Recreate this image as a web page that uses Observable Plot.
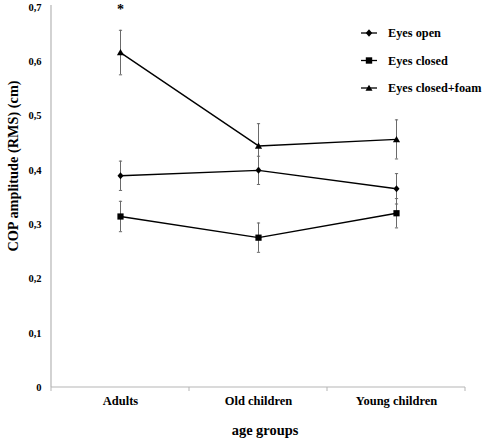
<!DOCTYPE html>
<html>
<head>
<meta charset="utf-8">
<script src="https://cdn.jsdelivr.net/npm/d3@7"></script>
<script src="https://cdn.jsdelivr.net/npm/@observablehq/plot@0.6"></script>
<style>
  html, body { margin: 0; padding: 0; background: #fff; }
  #chart { width: 499px; height: 440px; }
</style>
</head>
<body>
<div id="chart"></div>
<script>
const categories = ["Adults", "Old children", "Young children"];
const seriesNames = ["Eyes open", "Eyes closed", "Eyes closed+foam"];
const eyesOpen = [0.390, 0.400, 0.366];
const eyesOpenErr = [0.027, 0.026, 0.028];
const eyesClosed = [0.315, 0.276, 0.321];
const eyesClosedErr = [0.028, 0.027, 0.027];
const eyesClosedFoam = [0.617, 0.445, 0.457];
const eyesClosedFoamErr = [0.041, 0.041, 0.036];
const yTicks = [0, 0.1, 0.2, 0.3, 0.4, 0.5, 0.6, 0.7];
const significance = [{group: "Adults", label: "*", value: 0.697}];
const yTitle = "COP amplitude (RMS) (cm)";
const xTitle = "age groups";

const FONT = "Liberation Serif, Times New Roman, serif";

// custom symbols
const sym = {
  diamond: { draw(ctx, size) { const r = Math.sqrt(size / Math.PI); ctx.moveTo(0, -r * 1.15); ctx.lineTo(r, 0); ctx.lineTo(0, r * 1.15); ctx.lineTo(-r, 0); ctx.closePath(); } },
  square: { draw(ctx, size) { const r = Math.sqrt(size / Math.PI); ctx.rect(-r, -r, 2 * r, 2 * r); } },
  triangle: { draw(ctx, size) { const r = Math.sqrt(size / Math.PI); ctx.moveTo(0, -r * 1.05); ctx.lineTo(r * 1.1, r * 0.85); ctx.lineTo(-r * 1.1, r * 0.85); ctx.closePath(); } },
  cap: { draw(ctx, size) { const r = Math.sqrt(size / Math.PI); ctx.moveTo(-r, 0); ctx.lineTo(r, 0); } }
};
const symbolFor = {"Eyes open": sym.diamond, "Eyes closed": sym.square, "Eyes closed+foam": sym.triangle};
const sizeFor = {"Eyes open": 4.2, "Eyes closed": 4.5, "Eyes closed+foam": 5};

const valuesBySeries = [eyesOpen, eyesClosed, eyesClosedFoam];
const errBySeries = [eyesOpenErr, eyesClosedErr, eyesClosedFoamErr];
const data = [];
seriesNames.forEach((s, si) => {
  categories.forEach((c, ci) => {
    data.push({series: s, group: c, value: valuesBySeries[si][ci], err: errBySeries[si][ci]});
  });
});

// axis lines and boundary ticks between categories
function frameAndTicks(index, scales, values, dims) {
  const g = d3.create("svg:g");
  const x = scales.x, y = scales.y;
  const xs = categories.map(c => x(c));
  const step = xs[1] - xs[0];
  const y0 = y(0), yTop = y(0.7);
  const left = xs[0] - step / 2, right = xs[xs.length - 1] + step / 2;
  g.append("line").attr("x1", left).attr("x2", left).attr("y1", y0).attr("y2", yTop - 2).attr("stroke", "#b5b5b5").attr("stroke-width", 1.2);
  g.append("line").attr("x1", left).attr("x2", right).attr("y1", y0).attr("y2", y0).attr("stroke", "#b5b5b5").attr("stroke-width", 1.2);
  const bounds = xs.map(v => v - step / 2).concat([right]);
  bounds.forEach(b => {
    g.append("line").attr("x1", b).attr("x2", b).attr("y1", y0).attr("y2", y0 + 4).attr("stroke", "#b5b5b5").attr("stroke-width", 1);
  });
  return g.node();
}

function titles(index, scales, values, dims) {
  const g = d3.create("svg:g").attr("font-family", FONT).attr("font-weight", "bold").attr("fill", "#000");
  g.append("text").attr("transform", "translate(13,166) rotate(-90)").attr("text-anchor", "middle").attr("dy", "0.35em").attr("font-size", 14.3).text(yTitle);
  g.append("text").attr("x", 265).attr("y", 430).attr("text-anchor", "middle").attr("dy", "0.35em").attr("font-size", 14.4).text(xTitle);
  return g.node();
}

function legend(index, scales, values, dims) {
  const g = d3.create("svg:g").attr("font-family", FONT).attr("font-weight", "bold").attr("font-size", 12.3);
  const x0 = 361, y0 = 33, dy = 27.5;
  seriesNames.forEach((s, i) => {
    const yy = y0 + i * dy;
    g.append("line").attr("x1", x0).attr("x2", x0 + 16).attr("y1", yy).attr("y2", yy).attr("stroke", "#000").attr("stroke-width", 1.3);
    g.append("path").attr("transform", `translate(${x0 + 8},${yy})`).attr("d", d3.symbol(symbolFor[s], Math.PI * 3.2 * 3.2)()).attr("fill", "#000");
    g.append("text").attr("x", x0 + 27).attr("y", yy).attr("dy", "0.35em").attr("text-anchor", "start").attr("fill", "#000").text(s);
  });
  return g.node();
}

const fmt = d => d === 0 ? "0" : d3.format(".1f")(d).replace(".", ",");

const plot = Plot.plot({
  width: 499,
  height: 440,
  marginLeft: 50,
  marginRight: 33,
  marginTop: 7,
  marginBottom: 53,
  style: {fontFamily: FONT, background: "#fff", color: "#000"},
  x: {type: "point", domain: categories, padding: 0.5},
  y: {domain: [0, 0.7]},
  marks: [
    frameAndTicks,
    Plot.axisY({ticks: yTicks, tickSize: 0, tickPadding: 9, tickFormat: fmt, fontSize: 10.5, fontWeight: "bold", label: null}),
    Plot.axisX({tickSize: 0, tickPadding: 9, fontSize: 12.5, fontWeight: "bold", label: null}),
    titles,
    Plot.ruleX(data, {x: "group", y1: d => d.value - d.err, y2: d => d.value + d.err, stroke: "#6a6a6a", strokeWidth: 1}),
    Plot.dot(data, {x: "group", y: d => d.value - d.err, symbol: () => sym.cap, r: 1.6, stroke: "#6a6a6a", strokeWidth: 1, fill: "none"}),
    Plot.dot(data, {x: "group", y: d => d.value + d.err, symbol: () => sym.cap, r: 1.6, stroke: "#6a6a6a", strokeWidth: 1, fill: "none"}),
    Plot.line(data, {x: "group", y: "value", z: "series", stroke: "#000", strokeWidth: 1.4}),
    Plot.dot(data, {x: "group", y: "value", symbol: d => symbolFor[d.series], r: d => sizeFor[d.series], fill: "#000", stroke: "none"}),
    Plot.text(significance, {x: "group", y: "value", text: "label", fontSize: 14, fontWeight: "bold", fill: "#000"}),
    legend
  ]
});
document.getElementById("chart").appendChild(plot);
</script>
</body>
</html>
